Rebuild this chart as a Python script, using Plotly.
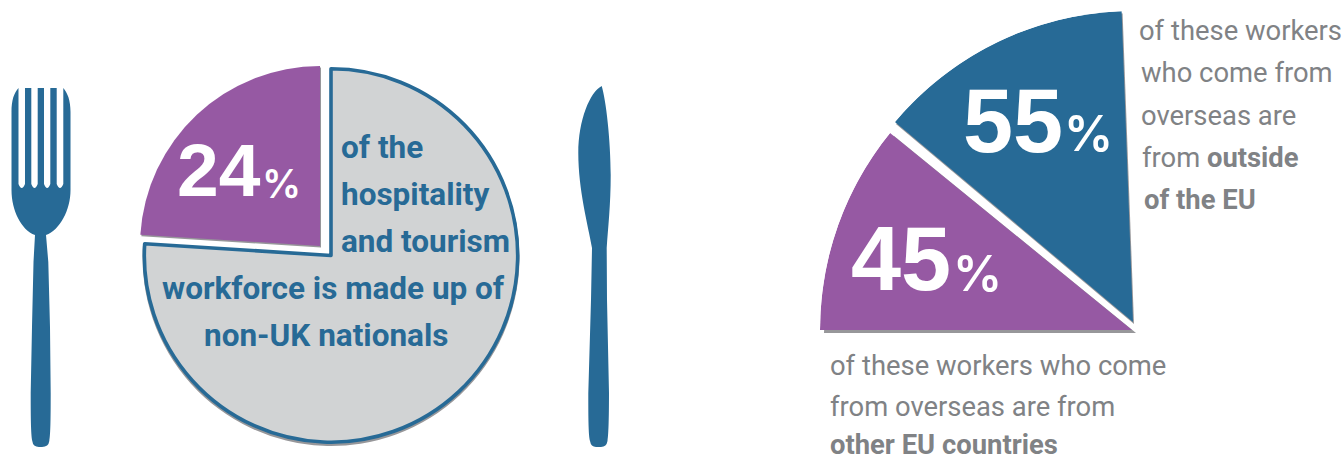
import plotly.graph_objects as go

W, H = 1344, 461

# Share of the hospitality and tourism workforce
workforce_labels = ["UK nationals", "Non-UK nationals"]
workforce_values = [76, 24]

# Where the overseas workers come from
origin_labels = ["Other EU countries", "Outside of the EU"]
origin_values = [45, 55]

plate_lines = ["of the", "hospitality", "and tourism", "workforce is made up of", "non-UK nationals"]
eu_lines = ["of these workers who come", "from overseas are from", "<b>other EU countries</b>"]
non_eu_lines = ["of these workers", "who come from", "overseas are", "from <b>outside</b>", "<b>of the EU</b>"]

BLUE = "#276A96"
PURPLE = "#9659A3"
PLATE = "#D1D3D4"
SHADOW = "#97979A"
GREY_TEXT = "#808285"
BODY = "Roboto"
SANS = "Liberation Sans"

# The origin wedges together sweep a little under a quarter turn
ORIGIN_SWEEP = 87.0
ORIGIN_START = 180.0
ORIGIN_GAP = 0.9


def px_x(x):
    return x / W


def px_y(y):
    return 1 - y / H


def domain(cx, cy, r):
    return dict(x=[px_x(cx - r), px_x(cx + r)], y=[px_y(cy + r), px_y(cy - r)])


def quarter_domain(right, bottom, r):
    return dict(x=[px_x(right - r), px_x(right)], y=[px_y(bottom), px_y(bottom - r)])


def plate_pie(colors, cx, cy, r, line_widths=(0, 0), line_color="rgba(0,0,0,0)"):
    return go.Pie(
        labels=workforce_labels,
        values=workforce_values,
        sort=False,
        direction="clockwise",
        rotation=0,
        textinfo="none",
        hoverinfo="skip",
        marker=dict(colors=colors, line=dict(color=line_color, width=list(line_widths))),
        domain=domain(cx, cy, r),
    )


def wedge(index, start_deg, color, subplot):
    span = origin_values[index] / sum(origin_values) * ORIGIN_SWEEP
    return go.Barpolar(
        r=[1],
        theta=[start_deg - span / 2],
        width=[span],
        marker=dict(color=color, line=dict(width=0)),
        hoverinfo="skip",
        subplot=subplot,
    )


def polar_layout(right, bottom, r):
    return dict(
        domain=quarter_domain(right, bottom, r),
        sector=[90, 180],
        bgcolor="rgba(0,0,0,0)",
        radialaxis=dict(visible=False, range=[0, 1]),
        angularaxis=dict(visible=False, thetaunit="degrees"),
    )


none = "rgba(0,0,0,0)"
purple_span = origin_values[0] / sum(origin_values) * ORIGIN_SWEEP
blue_start = ORIGIN_START - purple_span - ORIGIN_GAP

fig = go.Figure()

# Origin wedges, each above its own drop shadow
fig.add_trace(wedge(0, ORIGIN_START, SHADOW, "polar"))
fig.add_trace(wedge(0, ORIGIN_START, PURPLE, "polar2"))
fig.add_trace(wedge(1, blue_start, SHADOW, "polar3"))
fig.add_trace(wedge(1, blue_start, BLUE, "polar4"))

# The plate and its lifted slice
fig.add_trace(plate_pie([SHADOW, none], 331, 257.5, 188.5))
fig.add_trace(plate_pie([PLATE, none], 331, 255.5, 186.7, (3.6, 0), BLUE))
fig.add_trace(plate_pie([none, SHADOW], 321, 247.5, 180))
fig.add_trace(plate_pie([none, PURPLE], 320, 246, 180))


def note(text, x, y, size, color, family, anchor="left", weight="normal"):
    return dict(
        text=text, x=px_x(x), y=px_y(y), xref="paper", yref="paper",
        xanchor=anchor, yanchor="middle", showarrow=False,
        font=dict(size=size, color=color, family=family, weight=weight),
    )


annotations = []
for line, x, y in zip(plate_lines, [339, 339, 339, 160, 202], [147, 194, 241, 288, 335]):
    annotations.append(note(f"<b>{line}</b>", x, y, 31.5, BLUE, BODY))
for line, x, y in zip(eu_lines, [828, 828, 828], [366, 407, 445]):
    annotations.append(note(line, x, y, 27.4, GREY_TEXT, BODY))
for line, x, y in zip(non_eu_lines, [1137, 1139, 1139, 1140, 1142], [31, 73, 116, 158, 200]):
    annotations.append(note(line, x, y, 27.4, GREY_TEXT, BODY))

# Big percentages on the slices
annotations += [
    note(f"<b>{workforce_values[1]}</b>", 175, 170, 75, "white", SANS),
    note("%", 260, 183, 39, "white", "Inter", weight=600),
    note(f"<b>{origin_values[1]}</b>", 961, 121, 90, "white", SANS),
    note("%", 1062, 134, 49, "white", "Inter", weight=600),
    note(f"<b>{origin_values[0]}</b>", 849, 259, 90, "white", SANS),
    note("%", 951, 273, 49, "white", "Inter", weight=600),
]


def path(points):
    """Build an SVG path from pixel coordinates, mapped to paper space."""
    parts = []
    for cmd, *coords in points:
        mapped = []
        for i in range(0, len(coords), 2):
            mapped.append(f"{px_x(coords[i]):.5f},{px_y(coords[i + 1]):.5f}")
        parts.append(cmd + " " + " ".join(mapped))
    return " ".join(parts) + " Z"


# Fork head with its tines, then the handle
fork = [("M", 11.5, 112), ("C", 11.5, 100, 14, 93, 18.5, 88), ("L", 18.5, 184),
        ("Q", 21.7, 192, 25, 184), ("L", 25, 88), ("L", 31.3, 88), ("L", 31.3, 184),
        ("Q", 34.5, 192, 37.7, 184), ("L", 37.7, 88), ("L", 44, 88), ("L", 44, 184),
        ("Q", 47.2, 192, 50.3, 184), ("L", 50.3, 88), ("L", 56.7, 88), ("L", 56.7, 184),
        ("Q", 60, 192, 63.3, 184), ("L", 63.3, 88), ("C", 67.5, 93, 70.5, 100, 70.5, 112),
        ("L", 70.5, 190), ("C", 70.5, 210, 60, 230, 46, 235), ("L", 48.3, 262),
        ("L", 50, 327), ("L", 50.7, 393), ("C", 50.7, 420, 50.5, 435, 49.3, 441),
        ("Q", 48.5, 447, 42, 447), ("L", 39, 447), ("Q", 33, 447, 32.3, 441),
        ("C", 31, 435, 30.7, 420, 30.7, 393), ("L", 32, 327), ("L", 33.5, 262), ("L", 35, 235),
        ("C", 21, 230, 11.5, 210, 11.5, 190)]

# Knife blade narrowing into the handle
knife = [("M", 601.7, 86), ("C", 606, 100, 610.7, 140, 610.7, 175),
         ("C", 610.7, 205, 608, 228, 606.7, 248), ("L", 607, 300), ("L", 609, 393),
         ("C", 609, 420, 608.5, 435, 607.5, 441), ("Q", 606.5, 447, 601, 447), ("L", 596, 447),
         ("Q", 591, 447, 590, 441), ("C", 588.5, 435, 588.3, 420, 588.3, 393), ("L", 591, 300),
         ("L", 592, 248), ("C", 588, 225, 578.3, 190, 578.3, 153), ("C", 578.3, 120, 590, 92, 601.7, 86)]

shapes = [
    dict(type="path", path=path(p), xref="paper", yref="paper", fillcolor=BLUE, line=dict(width=0), layer="above")
    for p in (fork, knife)
]

fig.update_layout(
    width=W,
    height=H,
    autosize=False,
    margin=dict(l=0, r=0, t=0, b=0),
    paper_bgcolor="white",
    showlegend=False,
    polar=polar_layout(1136, 333, 312),
    polar2=polar_layout(1132, 330, 312),
    polar3=polar_layout(1134, 324, 311),
    polar4=polar_layout(1133, 322, 311),
    annotations=annotations,
    shapes=shapes,
)

fig.write_html("out.html", config=dict(displayModeBar=False))
